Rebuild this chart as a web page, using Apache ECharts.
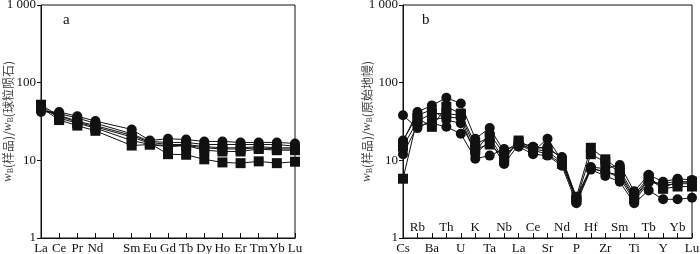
<!DOCTYPE html>
<html>
<head>
<meta charset="utf-8">
<script src="https://cdn.jsdelivr.net/npm/echarts@6/dist/echarts.min.js"></script>
<style>
  html, body { margin: 0; padding: 0; background: #fff; }
  #echart { width: 700px; height: 254px; }
</style>
</head>
<body>
<div id="echart"></div>
<script>
// panel a: chondrite normalised REE
var reeNames = ['La', 'Ce', 'Pr', 'Nd', '', 'Sm', 'Eu', 'Gd', 'Tb', 'Dy', 'Ho', 'Er', 'Tm', 'Yb', 'Lu'];
var reeSquare1 = [52, 37, 31, 27, null, 20, 16.5, 12, 11.8, 10.3, 9.4, 9.2, 9.7, 9.2, 9.6];
var reeSquare2 = [48, 33, 28, 24, null, 15.5, 16, 15, 15.5, 13.5, 13, 13, 14, 13.5, 13.5];
var reeSquare3 = [50, 35, 30, 26, null, 18, 16, 15.5, 15.5, 14.5, 14, 14, 14.5, 14, 14];
var reeCircle1 = [42, 42, 37, 32, null, 25, 18, 19, 18.5, 17.5, 17.5, 17, 17, 17, 16.5];
var reeCircle2 = [44, 40, 35, 30, null, 22, 17.5, 17, 17, 16, 16, 16, 16, 16, 15.2];
var reeCircle3 = [45, 38, 32, 28, null, 21, 17, 16, 16, 15, 14.5, 14.5, 15, 14.5, 14.5];

// panel b: primitive mantle normalised spider
var spiderNames = ['Cs', 'Rb', 'Ba', 'Th', 'U', 'K', 'Ta', 'Nb', 'La', 'Ce', 'Sr', 'Nd', 'P', 'Hf', 'Zr', 'Sm', 'Ti', 'Tb', 'Y', 'Yb', 'Lu'];
var spCircle1 = [12, 28, 30, 27, 22, 10.5, 11.5, 14, 15, 12, 11.5, 8.5, 2.8, 7.6, 6.3, 5.3, 2.8, 4.1, 3.15, 3.15, 3.3];
var spCircle2 = [38, 26, 33, 36, 35, 12, 18, 9, 16, 13, 19, 10, 3, 8, 7, 6.5, 3.2, 5.5, 4.8, 5, 5];
var spCircle3 = [17.5, 42, 51, 64, 54, 19, 26, 13, 17, 15, 14, 11, 3.3, 8.2, 7.8, 8.7, 4, 6.5, 5.3, 5.8, 5.6];
var spCircle4 = [18, 38, 45, 33, 30, 13, 22, 12, 16, 14, 15, 10.5, 3.2, 7.8, 7.2, 6, 3, 5.2, 5, 5.4, 5.2];
var spSquare1 = [5.8, 35, 27, 49, 40, 16, 20, 10, 18, 14, 13, 9.5, 3.4, 14.5, 10.3, 7.5, 3.6, 6, 4.5, 5.2, 5.3];
var spSquare2 = [15, 32, 40, 40, 38, 14, 16, 11, 17, 13.5, 12, 9, 3.1, 12, 9.5, 7, 3.3, 5.8, 4.3, 4.6, 4.6];

var yTicks = ['1', '10', '100', '1 000'];

var font = 'Liberation Serif';
var black = '#111';

function yAxis(gridIndex, title) {
    return {
        type: 'log',
        logBase: 10,
        min: 1,
        max: 1000,
        gridIndex: gridIndex,
        axisLine: {show: true, lineStyle: {color: black, width: 1}},
        axisTick: {show: true, length: 4, lineStyle: {color: black}},
        minorTick: {show: false},
        splitLine: {show: false},
        axisLabel: {
            margin: 5,
            color: black,
            fontFamily: font,
            fontSize: 13,
            formatter: function (v) {
                return yTicks[Math.round(Math.log10(v))];
            }
        },
        name: title,
        nameLocation: 'middle',
        nameRotate: 90,
        nameMoveOverlap: false,
        nameGap: gridIndex === 0 ? 26 : 29,
        nameTextStyle: {
            color: '#444',
            fontFamily: 'Noto Sans CJK SC',
            fontSize: 12,
            rich: {
                i: {fontFamily: font, fontStyle: 'italic', fontSize: 13, color: '#444'},
                s: {fontFamily: font, fontSize: 8, color: '#444', verticalAlign: 'bottom', padding: [6, 0, 0, 0]}
            }
        }
    };
}

function xAxis(gridIndex, names, which) {
    return {
        type: 'category',
        gridIndex: gridIndex,
        position: 'bottom',
        offset: 0,
        data: names,
        boundaryGap: false,
        axisLine: {show: which !== 'top', lineStyle: {color: black, width: 1}},
        axisTick: {show: which !== 'top', inside: true, length: 5, interval: 0, lineStyle: {color: black}},
        splitLine: {show: false},
        axisLabel: {
            interval: 0,
            inside: which === 'top',
            margin: 4,
            color: black,
            fontFamily: font,
            fontSize: 13,
            formatter: function (v, i) {
                if (which === 'all') return v;
                if (which === 'even') return i % 2 === 0 ? v : '';
                return i % 2 === 1 ? v : '';
            }
        }
    };
}

function line(name, values, symbol, xi, yi) {
    return {
        name: name,
        type: 'line',
        xAxisIndex: xi,
        yAxisIndex: yi,
        data: values,
        connectNulls: true,
        symbol: symbol,
        symbolSize: 10,
        showSymbol: true,
        itemStyle: {color: black},
        lineStyle: {color: black, width: 1}
    };
}

var Echart = echarts.init(document.getElementById('echart'), null, {renderer: 'canvas'});
var option = {
    animation: false,
    backgroundColor: '#fff',
    grid: [
        {left: 41, top: 5, width: 254, height: 233, show: true, borderColor: black, borderWidth: 1, backgroundColor: 'transparent', outerBoundsMode: 'none'},
        {left: 403, top: 5, width: 289, height: 233, show: true, borderColor: black, borderWidth: 1, backgroundColor: 'transparent', outerBoundsMode: 'none'}
    ],
    title: [
        {text: 'a', left: 58, top: 8, textStyle: {fontFamily: font, fontSize: 15, fontWeight: 'normal', color: black}},
        {text: 'b', left: 417, top: 8, textStyle: {fontFamily: font, fontSize: 15, fontWeight: 'normal', color: black}}
    ],
    xAxis: [
        xAxis(0, reeNames, 'all'),
        xAxis(1, spiderNames, 'even'),
        xAxis(1, spiderNames, 'top')
    ],
    yAxis: [
        yAxis(0, '{i|w}{s|B}(样品)/{i|w}{s|B}(球粒陨石)'),
        yAxis(1, '{i|w}{s|B}(样品)/{i|w}{s|B}(原始地幔)')
    ],
    series: [
        line('s1', reeSquare1, 'rect', 0, 0),
        line('s2', reeSquare2, 'rect', 0, 0),
        line('s3', reeSquare3, 'rect', 0, 0),
        line('c1', reeCircle1, 'circle', 0, 0),
        line('c2', reeCircle2, 'circle', 0, 0),
        line('c3', reeCircle3, 'circle', 0, 0),
        line('b1', spCircle1, 'circle', 1, 1),
        line('b2', spCircle2, 'circle', 1, 1),
        line('b3', spCircle3, 'circle', 1, 1),
        line('b4', spCircle4, 'circle', 1, 1),
        line('b5', spSquare1, 'rect', 1, 1),
        line('b6', spSquare2, 'rect', 1, 1)
    ]
};
Echart.setOption(option);
</script>
</body>
</html>
